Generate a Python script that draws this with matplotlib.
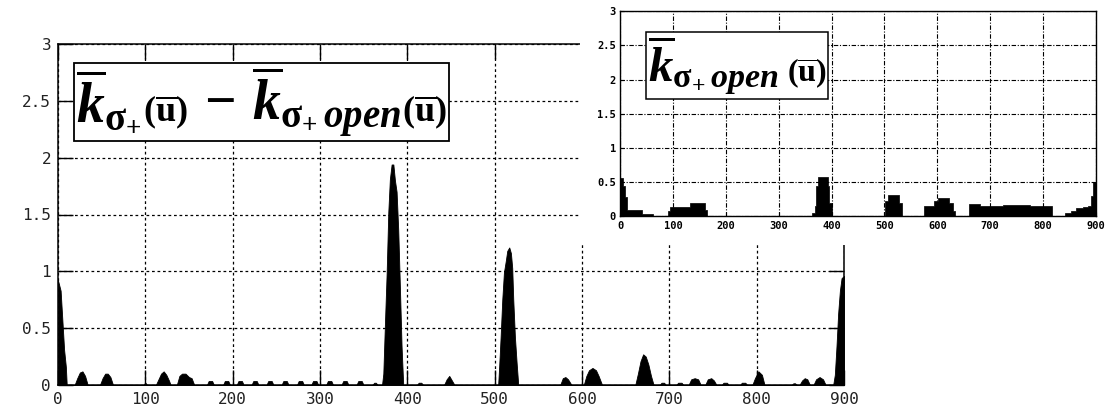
import matplotlib
matplotlib.use("Agg")
import matplotlib.pyplot as plt
from matplotlib.offsetbox import TextArea, HPacker, AnchoredOffsetbox

plt.rcParams["mathtext.fontset"] = "custom"
plt.rcParams["mathtext.rm"] = "Liberation Serif:bold"
plt.rcParams["mathtext.it"] = "Liberation Serif:italic:bold"
plt.rcParams["mathtext.bf"] = "Liberation Serif:bold"

# ---- main curve: difference of the two coefficients ----
u_diff = [0, 3, 5, 7, 9, 10,
          19, 22, 25, 28, 31, 34,
          48, 51, 54, 57, 60, 63,
          98, 100, 102,
          112, 115, 118, 121, 124, 127, 129,
          136, 139, 142, 146, 150, 153, 156,
          170.5, 172.5, 176.5, 178.5,
          189, 191, 195, 197,
          204.6, 206.6, 210.6, 212.6,
          221.6, 223.6, 227.6, 229.6,
          238.7, 240.7, 244.7, 246.7,
          256, 258, 262, 264,
          273.6, 275.6, 279.6, 281.6,
          290, 292, 296, 298,
          307, 309, 313, 315,
          324.6, 326.6, 330.6, 332.6,
          341.8, 343.8, 347.8, 349.8,
          360, 362, 364, 366,
          371, 372.5, 374.4, 376.3, 378.2, 380, 382, 384, 385.8, 387.7,
          389.6, 391.5, 393.4, 395.3,
          411, 413, 416, 418,
          442, 445, 448, 451, 454,
          504, 505.2, 506.8, 508.7, 510.6, 512.9, 514.4, 516.7, 518.6,
          520.1, 521.3, 523.2, 525.1, 527,
          575, 578, 581, 584, 588,
          602, 605, 608, 612, 616, 619, 623,
          661, 664, 667, 670, 673, 676, 679, 682,
          689, 691, 694, 696,
          708, 710, 714, 716,
          722, 725, 729, 733, 736,
          741, 744, 748, 751, 754,
          760, 762, 766, 768,
          781, 783, 787, 789,
          795, 798, 802, 806, 809,
          840, 842, 844, 846,
          849, 852, 855, 858, 861,
          865, 868, 872, 876, 879,
          887.6, 889.5, 891.4, 893.3, 895.3, 897.2, 900]
k_diff = [0.92, 0.83, 0.57, 0.31, 0.16, 0.0,
          0.0, 0.06, 0.11, 0.12, 0.08, 0.0,
          0.0, 0.06, 0.10, 0.10, 0.07, 0.0,
          0.0, 0.02, 0.0,
          0.0, 0.05, 0.10, 0.12, 0.09, 0.04, 0.0,
          0.0, 0.08, 0.10, 0.10, 0.07, 0.06, 0.0,
          0.0, 0.035, 0.035, 0.0,
          0.0, 0.035, 0.035, 0.0,
          0.0, 0.035, 0.035, 0.0,
          0.0, 0.035, 0.035, 0.0,
          0.0, 0.035, 0.035, 0.0,
          0.0, 0.035, 0.035, 0.0,
          0.0, 0.035, 0.035, 0.0,
          0.0, 0.035, 0.035, 0.0,
          0.0, 0.035, 0.035, 0.0,
          0.0, 0.035, 0.035, 0.0,
          0.0, 0.035, 0.035, 0.0,
          0.0, 0.02, 0.02, 0.0,
          0.0, 0.10, 0.55, 0.98, 1.52, 1.81, 1.94, 1.94, 1.80, 1.70,
          1.36, 0.86, 0.34, 0.0,
          0.0, 0.02, 0.02, 0.0,
          0.0, 0.05, 0.08, 0.04, 0.0,
          0.0, 0.17, 0.42, 0.75, 0.99, 1.10, 1.18, 1.21, 1.16,
          1.03, 0.75, 0.42, 0.20, 0.0,
          0.0, 0.06, 0.07, 0.05, 0.0,
          0.0, 0.08, 0.13, 0.15, 0.13, 0.08, 0.0,
          0.0, 0.10, 0.21, 0.27, 0.25, 0.18, 0.08, 0.0,
          0.0, 0.02, 0.02, 0.0,
          0.0, 0.02, 0.02, 0.0,
          0.0, 0.05, 0.06, 0.05, 0.0,
          0.0, 0.05, 0.06, 0.04, 0.0,
          0.0, 0.02, 0.02, 0.0,
          0.0, 0.02, 0.02, 0.0,
          0.0, 0.06, 0.12, 0.09, 0.0,
          0.0, 0.015, 0.015, 0.0,
          0.0, 0.04, 0.06, 0.05, 0.0,
          0.0, 0.05, 0.07, 0.05, 0.0,
          0.0, 0.09, 0.34, 0.63, 0.83, 0.94, 0.96]

# ---- inset curve: open-case coefficient (piecewise constant) ----
u_open = [0, 3, 6.3, 9.5, 12.6, 41, 63, 91.7, 95, 133, 160, 164,
          363.7, 368, 371, 374, 393, 395.3, 401.6,
          501.5, 507, 528, 532.6,
          575.5, 594.5, 602, 623, 630, 633,
          659.7, 680, 702, 724, 753, 775, 803, 816,
          841, 853, 863, 875, 885, 891, 895, 900]
k_open = [0.56, 0.56, 0.44, 0.29, 0.09, 0.04, 0.0, 0.08, 0.14, 0.20, 0.10, 0.0,
          0.05, 0.15, 0.45, 0.58, 0.45, 0.20, 0.0,
          0.22, 0.32, 0.20, 0.0,
          0.15, 0.23, 0.27, 0.20, 0.08, 0.0,
          0.18, 0.16, 0.15, 0.175, 0.17, 0.16, 0.155, 0.0,
          0.05, 0.08, 0.12, 0.14, 0.16, 0.30, 0.50, 0.55]

x_ticks = [0, 100, 200, 300, 400, 500, 600, 700, 800, 900]
y_ticks = [0, 0.5, 1, 1.5, 2, 2.5, 3]
y_ticklabels = ["0", "0.5", "1", "1.5", "2", "2.5", "3"]

W, H = 1113, 418
fig = plt.figure(figsize=(W / 100, H / 100), dpi=100)
fig.patch.set_facecolor("white")


def frac(left, top, right, bottom):
    return [left / W, 1 - bottom / H, (right - left) / W, (bottom - top) / H]


# main axes
ax = fig.add_axes(frac(58, 44, 844, 385))
ax.fill_between(u_diff, k_diff, 0, color="black", linewidth=0.6, edgecolor="black")
ax.set_xlim(0, 900)
ax.set_ylim(0, 3)
ax.set_xticks(x_ticks)
ax.set_xticklabels([str(t) for t in x_ticks])
ax.set_yticks(y_ticks)
ax.set_yticklabels(y_ticklabels)
ax.grid(True, color="black", linestyle=(0, (2.2, 2.2)), linewidth=0.9)
ax.tick_params(direction="in", length=11, width=1.0, top=True, right=True,
               labelsize=11.5, pad=5, colors="black")
for lab in ax.get_xticklabels() + ax.get_yticklabels():
    lab.set_family("DejaVu Sans Mono")
    lab.set_color("#222222")
for sp in ax.spines.values():
    sp.set_linewidth(1.1)

big = 40
small = 26
parts = [
    TextArea(r"$\overline{k}_{\mathrm{\sigma}_{+}}$", textprops=dict(size=big)),
    TextArea(r"$(\overline{\mathrm{u}})$", textprops=dict(size=small)),
    TextArea(r"$\,-\,\overline{k}_{\mathrm{\sigma}_{+}\,open}$", textprops=dict(size=big)),
    TextArea(r"$(\overline{\mathrm{u}})$", textprops=dict(size=small)),
]
label_main = AnchoredOffsetbox(
    loc="upper left",
    child=HPacker(children=parts, align="baseline", pad=0, sep=1),
    pad=0.12, borderpad=0, frameon=True,
    bbox_to_anchor=(74 / W, 1 - 63 / H), bbox_transform=fig.transFigure)
label_main.patch.set_linewidth(1.3)
label_main.patch.set_edgecolor("black")
label_main.patch.set_boxstyle("square", pad=0)
ax.add_artist(label_main)

# white panel holding the inset
panel = fig.add_axes(frac(580, 0, W, 245))
panel.set_facecolor("white")
panel.set_xticks([])
panel.set_yticks([])
for sp in panel.spines.values():
    sp.set_visible(False)

# inset axes
ins = fig.add_axes(frac(620, 11, 1096, 216.5))
ins.fill_between(u_open, k_open, 0, step="post", color="black", linewidth=0.5)
ins.set_xlim(0, 900)
ins.set_ylim(0, 3)
ins.set_xticks(x_ticks)
ins.set_xticklabels([str(t) for t in x_ticks])
ins.set_yticks(y_ticks)
ins.set_yticklabels(y_ticklabels)
ins.grid(True, color="black", linestyle=(0, (4, 1.5, 1, 1.5)), linewidth=0.8)
ins.tick_params(direction="in", length=3, width=0.8, labelsize=7.5, pad=3,
                colors="black")
for lab in ins.get_xticklabels() + ins.get_yticklabels():
    lab.set_family("DejaVu Sans Mono")
    lab.set_weight("bold")
for sp in ins.spines.values():
    sp.set_linewidth(1.0)

ibig = 35
ismall = 23
iparts = [
    TextArea(r"$\overline{k}_{\mathrm{\sigma}_{+}\,open}$", textprops=dict(size=ibig)),
    TextArea(r"$(\overline{\mathrm{u}})$", textprops=dict(size=ismall)),
]
label_ins = AnchoredOffsetbox(
    loc="upper left",
    child=HPacker(children=iparts, align="baseline", pad=0, sep=6),
    pad=0.12, borderpad=0, frameon=True,
    bbox_to_anchor=(646 / W, 1 - 32 / H), bbox_transform=fig.transFigure)
label_ins.patch.set_linewidth(1.1)
label_ins.patch.set_edgecolor("black")
label_ins.patch.set_boxstyle("square", pad=0)
ins.add_artist(label_ins)

fig.savefig("out.png", dpi=100, facecolor="white")
